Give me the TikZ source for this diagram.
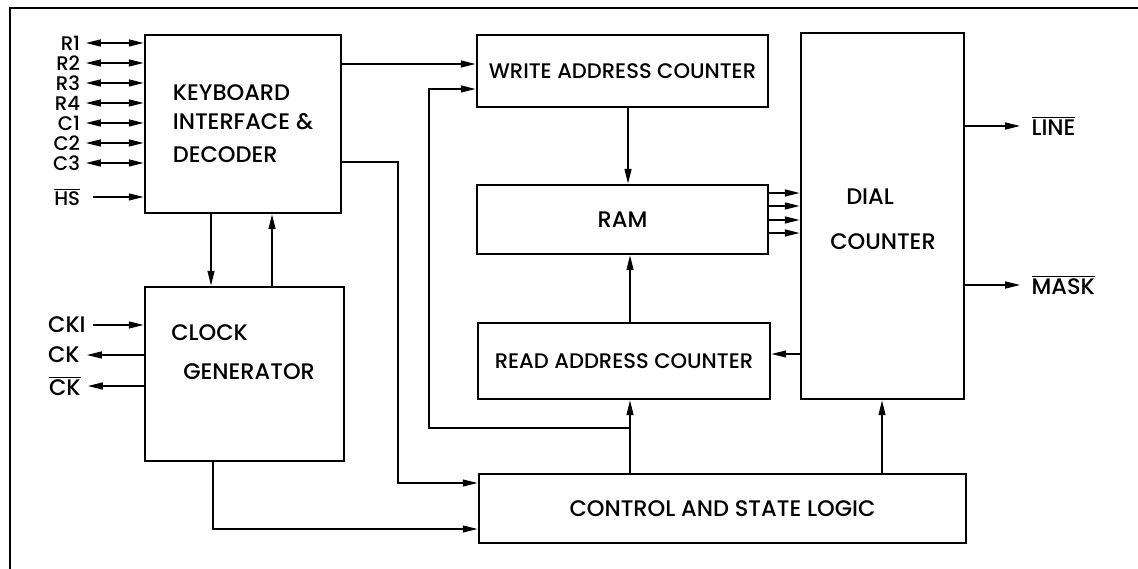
\documentclass[tikz,border=0pt]{standalone}
\usepackage{fontspec}
\IfFontExistsTF{Poppins Medium}{\setmainfont{Poppins Medium}}{\setmainfont{Poppins}}
\usetikzlibrary{arrows.meta,calc}

\newcommand{\ovl}[1]{$\overline{\mbox{#1}}$}

\tikzset{
  block/.style={draw, line width=2pt, inner sep=0pt},
  txt/.style={inner sep=0pt},
  pin/.style={inner xsep=4pt, inner ysep=0pt, font=\fontsize{14}{15}\selectfont},
  sig/.style={line width=0.8pt, -{Triangle[length=10.5pt,width=5pt]}},
  bisig/.style={line width=0.8pt, {Triangle[length=10.5pt,width=5pt]}-{Triangle[length=10.5pt,width=5pt]}}
}

\begin{document}
\begin{tikzpicture}[x=0.025cm, y=-0.025cm, font=\fontsize{16}{18}\selectfont]
\useasboundingbox (0,0) rectangle (1138,569);
% frame
\draw[line width=1pt] (10,569) -- (10,8) -- (1138,8);

% blocks
\node[block, minimum width=4.9cm, minimum height=4.45cm, align=left] (kb) at (243,124)
  {KEYBOARD\\[2pt]INTERFACE \&\\[6pt]DECODER};
\node[block, minimum width=4.975cm, minimum height=4.35cm] (cg) at (244.5,374) {};
\node[txt, anchor=west] (cgclock) at (171,333) {CLOCK};
\node[txt, anchor=west] (cggen) at (183,372) {GENERATOR};
\node[block, minimum width=7.275cm, minimum height=1.8cm, font=\fontsize{15}{17}\selectfont] (wac) at (622.5,71) {WRITE ADDRESS COUNTER};
\node[block, minimum width=7.275cm, minimum height=1.725cm] (ram) at (622.5,219.5) {RAM};
\node[block, minimum width=7.3cm, minimum height=1.9cm, font=\fontsize{15}{17}\selectfont] (rac) at (624,361) {READ ADDRESS COUNTER};
\node[block, minimum width=4.075cm, minimum height=9.15cm] (dial) at (882.5,216) {};
\node[txt, anchor=west] (dialt) at (846,197) {DIAL};
\node[txt] (countert) at (883,242) {COUNTER};
\node[block, minimum width=12.175cm, minimum height=1.725cm] (csl) at (722.5,508.5) {CONTROL AND STATE LOGIC};

% keyboard pins
\foreach \lab [count=\i from 0] in {R1,R2,R3,R4,C1,C2,C3} {
  \node[pin, anchor=east] (p\i) at (86,43+20*\i) {\lab};
  \draw[bisig] (p\i.east) -- (kb.west |- p\i.east);
}
\node[pin, anchor=east, inner xsep=9pt] (hs) at (93,197) {\ovl{HS}};
\draw[sig] (hs.east) -- (kb.west |- hs.east);

% clock pins
\node[pin, anchor=east, inner xsep=5pt, font=\fontsize{16}{18}\selectfont] (cki) at (93,325) {CKI};
\draw[sig] (cki.east) -- (cg.west |- cki.east);
\node[pin, anchor=east, inner xsep=5pt, font=\fontsize{16}{18}\selectfont] (ck) at (87,355) {CK};
\draw[sig] (cg.west |- ck.east) -- (ck.east);
\node[pin, anchor=east, inner xsep=5pt, font=\fontsize{16}{18}\selectfont] (ckn) at (88,386) {\ovl{CK}};
\draw[sig] (cg.west |- ckn.east) -- (ckn.east);

% outputs
\node[pin, anchor=west, inner xsep=8pt, font=\fontsize{16}{18}\selectfont] (line) at (1020,126) {\ovl{LINE}};
\draw[sig] (dial.east |- line.west) -- (line.west);
\node[pin, anchor=west, inner xsep=8pt, font=\fontsize{16}{18}\selectfont] (mask) at (1020,285) {\ovl{MASK}};
\draw[sig] (dial.east |- mask.west) -- (mask.west);

% connections
\draw[sig] (kb.east |- 0,64) -- (wac.west |- 0,64);
\draw[sig] (kb.east |- 0,162) -- (398,162) |- (csl.west |- 0,483);
\draw[sig] (kb.south -| 211,0) -- (cg.north -| 211,0);
\draw[sig] (cg.north -| 272,0) -- (kb.south -| 272,0);
\draw[sig] (cg.south -| 213,0) |- (csl.west |- 0,529);
\draw[sig] (wac.south -| 628,0) -- (ram.north -| 628,0);
\draw[sig] (rac.north -| 630,0) -- (ram.south -| 630,0);
\draw[sig] (csl.north -| 630,0) -- (rac.south -| 630,0);
\coordinate (tap) at (630,428);
\draw[sig] (tap) -| (429,89) -- (wac.west |- 0,89);
\foreach \y in {193,206,220,233}
  \draw[sig] (ram.east |- 0,\y) -- (dial.west |- 0,\y);
\draw[sig] (dial.west |- 0,354) -- (rac.east |- 0,354);
\draw[sig] (csl.north -| 882,0) -- (dial.south -| 882,0);
\end{tikzpicture}
\end{document}
